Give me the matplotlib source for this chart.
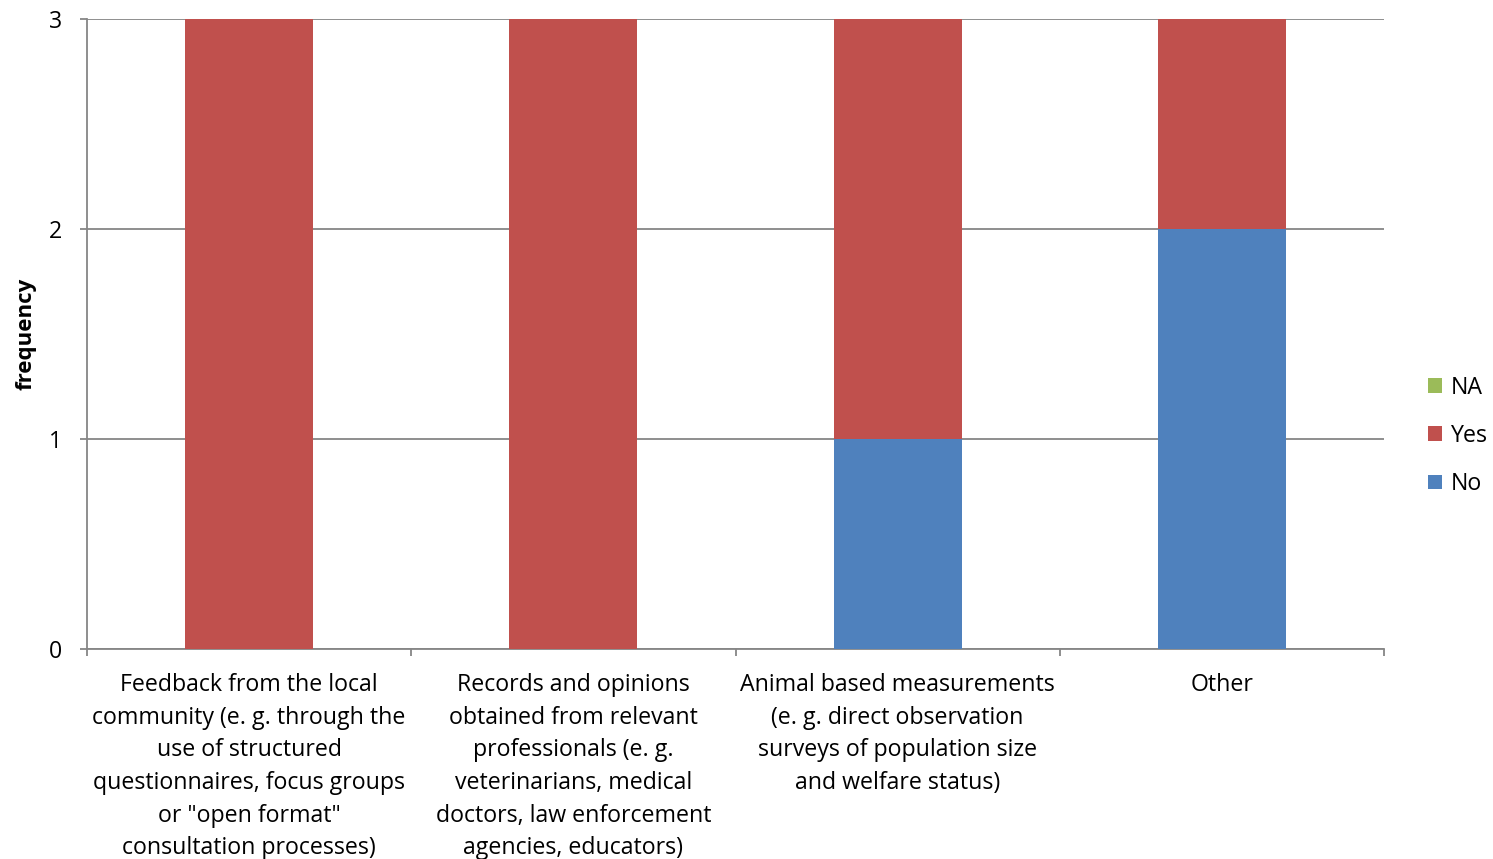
import matplotlib
matplotlib.use("Agg")
import matplotlib.pyplot as plt
import numpy as np

plt.rcParams['font.family'] = ['Open Sans', 'DejaVu Sans']

categories = [
    "Feedback from the local\ncommunity (e. g. through the\nuse of structured\nquestionnaires, focus groups\nor \"open format\"\nconsultation processes)",
    "Records and opinions\nobtained from relevant\nprofessionals (e. g.\nveterinarians, medical\ndoctors, law enforcement\nagencies, educators)",
    "Animal based measurements\n(e. g. direct observation\nsurveys of population size\nand welfare status)",
    "Other",
]
no_vals = [0, 0, 1, 2]
yes_vals = [3, 3, 2, 1]
na_vals = [0, 0, 0, 0]
y_ticks = [0, 1, 2, 3]

c_no = "#4F81BD"
c_yes = "#C0504D"
c_na = "#9BBB59"
grid_c = "#868686"
fs = 16.7

fig = plt.figure(figsize=(14.93, 8.59), dpi=100)
ax = fig.add_axes([87 / 1493, 1 - 649 / 859, (1384 - 87) / 1493, (649 - 19) / 859])

x = np.arange(len(categories))
w = 0.395
no_arr = np.array(no_vals)
yes_arr = np.array(yes_vals)
na_arr = np.array(na_vals)
b_no = ax.bar(x, no_arr, w, color=c_no, label="No", zorder=3)
b_yes = ax.bar(x, yes_arr, w, bottom=no_arr, color=c_yes, label="Yes", zorder=3)
b_na = ax.bar(x, na_arr, w, bottom=no_arr + yes_arr, color=c_na, label="NA", zorder=3)

ax.set_xlim(-0.5, len(categories) - 0.5)
ax.set_ylim(0, 3)
ax.set_yticks(y_ticks)
ax.set_yticklabels([str(t) for t in y_ticks])
ax.yaxis.grid(True, color=grid_c, linewidth=1.3, zorder=0)
ax.set_axisbelow(True)

# category labels centered under each bar, ticks at category boundaries
ax.set_xticks(np.arange(len(categories) + 1) - 0.5)
ax.set_xticklabels([])
for xi, lab in zip(x, categories):
    ax.text(xi, -0.115, lab, ha="center", va="top", fontsize=fs,
            linespacing=1.48, transform=ax.transData)

for s in ["top", "right"]:
    ax.spines[s].set_visible(False)
for s in ["left", "bottom"]:
    ax.spines[s].set_color(grid_c)
    ax.spines[s].set_linewidth(1.3)
ax.tick_params(axis="both", direction="out", length=5, color=grid_c, width=1.3)
ax.tick_params(axis="y", pad=13, labelsize=fs)

fig.text(26 / 1493, 1 - 334 / 859, "frequency", rotation=90, ha="center",
         va="center", fontsize=16, fontweight="bold")

handles = [b_na, b_yes, b_no]
fig.legend(handles, ["NA", "Yes", "No"], loc="center left",
           bbox_to_anchor=(1419 / 1493, 1 - 436 / 859), frameon=False,
           fontsize=fs, handlelength=0.6, handleheight=0.6,
           handletextpad=0.35, labelspacing=1.04, borderaxespad=0)

fig.savefig("out.png", dpi=100)
